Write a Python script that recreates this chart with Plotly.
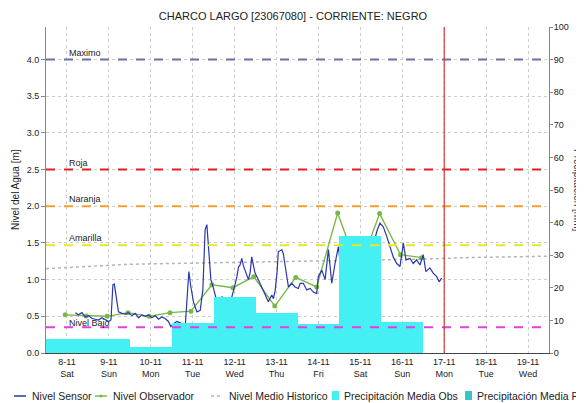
import pandas as pd
import plotly.graph_objects as go

inicio = pd.Timestamp('2014-11-08 00:00')

# nivel del sensor: horas desde 08-11 00:00 y nivel [m]
sensor_horas = [16.8, 18.6, 20.6, 22.5, 24.4, 26.3, 28.2, 30.1, 32.0, 33.9, 35.8, 37.2, 38.3, 39.1, 40.2, 41.5,
                43.5, 45.4, 47.2, 49.2, 51.1, 53.0, 54.9, 56.8, 58.7, 60.6, 62.5, 64.4, 66.4, 68.2, 70.1, 71.5,
                73.0, 74.9, 76.8, 78.7, 79.7, 81.0, 81.8, 82.9, 84.4, 86.4, 88.3, 89.8, 91.1, 92.1, 93.0, 94.4,
                95.9, 97.4, 98.6, 100.7, 102.0, 103.5, 104.8, 106.4, 107.7, 109.3, 110.2, 111.1, 112.1, 113.0,
                114.0, 115.9, 116.9, 117.8, 118.7, 119.7, 121.6, 123.2, 124.5, 125.4, 127.3, 129.3, 130.2, 131.2,
                132.3, 133.0, 135.0, 135.9, 136.9, 138.8, 140.7, 142.6, 144.5, 145.5, 147.3, 149.3, 151.2, 153.1,
                155.0, 155.9, 157.9, 159.8, 161.7, 163.6, 165.5, 167.4, 169.3, 171.2, 173.1, 175.0, 176.9, 178.8,
                180.8, 182.6, 184.5, 186.5, 188.4, 189.7, 191.2, 193.1, 195.1, 196.9, 198.8, 200.8, 202.7, 204.6,
                206.1, 208.4, 210.3, 212.2, 214.1, 216.0, 217.5, 219.8, 221.7, 223.7, 225.1, 226.5]
sensor_nivel = [0.55, 0.52, 0.55, 0.49, 0.51, 0.47, 0.46, 0.45, 0.48, 0.46, 0.43, 0.45, 0.93, 0.94, 0.77, 0.56,
                0.54, 0.53, 0.55, 0.51, 0.54, 0.48, 0.52, 0.50, 0.52, 0.48, 0.51, 0.46, 0.49, 0.47, 0.43, 0.36,
                0.40, 0.43, 0.41, 0.39, 0.36, 0.77, 1.11, 0.91, 0.70, 0.56, 0.58, 0.86, 1.68, 1.75, 1.45, 1.00,
                0.88, 0.72, 0.63, 0.77, 0.66, 0.56, 0.62, 0.75, 0.88, 1.04, 1.17, 1.20, 1.29, 1.19,
                1.13, 1.00, 1.10, 1.31, 1.20, 1.09, 1.00, 0.92, 0.86, 0.80, 0.70, 0.79, 0.74, 0.85,
                1.10, 1.38, 1.41, 1.35, 1.18, 0.90, 0.95, 0.90, 0.88, 0.95, 0.95, 0.86, 0.88, 0.83,
                0.81, 1.04, 1.13, 1.00, 1.41, 0.95, 1.22, 1.45, 1.04, 1.18, 1.00, 1.09, 0.95, 1.18,
                1.31, 1.09, 1.22, 1.41, 1.59, 1.68, 1.77, 1.72, 1.59, 1.45, 1.31, 1.22, 1.18, 1.50,
                1.27, 1.29, 1.22, 1.27, 1.20, 1.34, 1.11, 1.16, 1.09, 1.04, 0.97, 1.02]

obs_horas = [11, 23, 35, 47, 59, 71, 83, 95, 107, 119, 131, 143, 155, 167, 179, 191, 203, 215]
obs_nivel = [0.52, 0.505, 0.50, 0.55, 0.50, 0.55, 0.57, 0.93, 0.89, 1.04, 0.64, 1.03, 0.90, 1.91, 1.12, 1.90, 1.34, 1.30]

hist_horas = [0, 24, 48, 72, 96, 120, 144, 168, 192, 216, 240, 264, 288]
hist_nivel = [1.15, 1.18, 1.21, 1.22, 1.23, 1.24, 1.25, 1.26, 1.27, 1.28, 1.30, 1.31, 1.32]

# precipitacion diaria [mm]
precip_dias = ['2014-11-08', '2014-11-09', '2014-11-10', '2014-11-11', '2014-11-12',
               '2014-11-13', '2014-11-14', '2014-11-15', '2014-11-16']
precip_obs = [4.3, 4.3, 1.9, 9.3, 17.1, 12.4, 9.0, 36.0, 9.6]

umbrales = ['Maximo', 'Roja', 'Naranja', 'Amarilla', 'Nivel Bajo']
umbral_valor = [4.0, 2.5, 2.0, 1.47, 0.35]
umbral_color = ['#6b72a0', '#e02020', '#f0a030', '#e6e62a', '#e040e0']

dias = pd.date_range('2014-11-08 12:00', periods=12, freq='D')
dia_texto = [f"{d.day}-{d.month}<br>{d.strftime('%a')}" for d in dias]
ahora = pd.Timestamp('2014-11-17 12:00')

AZUL, VERDE, GRIS, CIAN, TEAL = '#2a36ac', '#78b848', '#b4b4b4', '#44f0f4', '#3cc4c4'

# leyenda dibujada a mano (una sola fila, cortada a la derecha como el original)
leyenda_nombres = ['Nivel Sensor', 'Nivel Observador', 'Nivel Medio Historico',
                   'Precipitación Media Obs', 'Precipitación Media Pro']
leyenda_tipo = ['linea', 'marcador', 'puntos', 'caja', 'caja']
leyenda_color = [AZUL, VERDE, GRIS, CIAN, TEAL]
leyenda_px = [14, 95, 211, 332, 465]  # borde izquierdo del simbolo, en pixeles de la ventana


def a_fecha(horas):
    return [inicio + pd.Timedelta(hours=h) for h in horas]


# el body de la pagina deja 8px de margen: la figura empieza en (8, 8)
OFF = 8
W, H = 584 - OFF, 403 - OFF
L, R, T, B = 46 - OFF, 35, 27 - OFF, 50
pw, ph = W - L - R, H - T - B


def px_x(p):
    return (p - OFF - L) / pw


def px_y(p):
    return (H - B - (p - OFF)) / ph


fig = go.Figure()
fig.add_trace(go.Bar(x=pd.to_datetime(precip_dias) + pd.Timedelta(hours=12), y=precip_obs, yaxis='y2',
                     width=86400000, marker=dict(color=CIAN, line_width=0),
                     name='Precipitación Media Obs'))
fig.add_trace(go.Scatter(x=a_fecha(hist_horas), y=hist_nivel, mode='lines',
                         line=dict(color=GRIS, width=1.5, dash='dot'), name='Nivel Medio Historico'))
fig.add_trace(go.Scatter(x=a_fecha(obs_horas), y=obs_nivel, mode='lines+markers',
                         line=dict(color=VERDE, width=1.4), marker=dict(size=5, color=VERDE),
                         name='Nivel Observador'))
fig.add_trace(go.Scatter(x=a_fecha(sensor_horas), y=sensor_nivel, mode='lines',
                         line=dict(color=AZUL, width=1.2), name='Nivel Sensor'))

for nombre, valor, color in zip(umbrales, umbral_valor, umbral_color):
    fig.add_shape(type='line', xref='paper', x0=0, x1=1, yref='y', y0=valor, y1=valor,
                  line=dict(color=color, width=2, dash='dash'))
    fig.add_annotation(x=dias[0], y=valor, text=nombre, showarrow=False, xanchor='left',
                       yanchor='bottom', yshift=-3 if nombre == 'Nivel Bajo' else 0,
                       font=dict(size=9, color='#222'))

fig.add_shape(type='line', x0=ahora, x1=ahora, yref='paper', y0=0, y1=1,
              line=dict(color='#d03838', width=1.2))

# titulos de los ejes
fig.add_annotation(xref='paper', yref='paper', x=px_x(15), y=px_y(190), text='Nivel del Agua [m]',
                   textangle=-90, showarrow=False, xanchor='center', yanchor='middle',
                   font=dict(size=10, color='#222'))
fig.add_annotation(xref='paper', yref='paper', x=px_x(578), y=px_y(190), text='Precipitacion [mm]',
                   textangle=90, showarrow=False, xanchor='center', yanchor='middle',
                   font=dict(size=10, color='#333'))

# leyenda
ly = px_y(396)
for nombre, tipo, color, p in zip(leyenda_nombres, leyenda_tipo, leyenda_color, leyenda_px):
    if tipo == 'caja':
        fig.add_shape(type='rect', xref='paper', yref='paper', x0=px_x(p), x1=px_x(p + 7),
                      y0=px_y(400), y1=px_y(391), fillcolor=color, line_width=0)
        tx = p + 10
    else:
        dash = 'dot' if tipo == 'puntos' else 'solid'
        fig.add_shape(type='line', xref='paper', yref='paper', x0=px_x(p), x1=px_x(p + 12),
                      y0=ly, y1=ly, line=dict(color=color, width=1.5, dash=dash))
        if tipo == 'marcador':
            fig.add_shape(type='circle', xref='paper', yref='paper', x0=px_x(p + 4.5), x1=px_x(p + 7.5),
                          y0=px_y(397.5), y1=px_y(394.5), fillcolor=color, line_width=0)
        tx = p + 16
    fig.add_annotation(xref='paper', yref='paper', x=px_x(tx), y=ly, text=nombre, showarrow=False,
                       xanchor='left', yanchor='middle', font=dict(size=10.5, color='#222'))

fig.update_layout(
    width=W, height=H,
    margin=dict(l=L, r=R, t=T, b=B),
    title=dict(text='CHARCO LARGO [23067080] - CORRIENTE: NEGRO', x=px_x(293) * pw / W + L / W,
               xanchor='center', y=1 - (16 - OFF) / H, yanchor='middle',
               font=dict(size=11, color='#222')),
    font=dict(family='Liberation Sans, Arial', size=9, color='#222'),
    plot_bgcolor='white', paper_bgcolor='white',
    bargap=0, barmode='overlay',
    showlegend=False,
    xaxis=dict(range=[inicio, inicio + pd.Timedelta(days=12)], tickvals=dias, ticktext=dia_texto,
               showgrid=True, gridcolor='#cccccc', griddash='dot', gridwidth=1, automargin=False,
               showline=True, linecolor='#444', ticks='', tickfont=dict(size=9)),
    yaxis=dict(range=[0, 4.444], tickvals=[0, 0.5, 1, 1.5, 2, 2.5, 3, 3.5, 4], tickformat='.1f',
               showgrid=True, gridcolor='#cccccc', griddash='dot', gridwidth=1, zeroline=False,
               showline=True, linecolor='#888', ticks='outside', ticklen=4, tickcolor='#888',
               automargin=False),
    yaxis2=dict(range=[0, 100], overlaying='y', side='right', dtick=10, showgrid=False,
                zeroline=False, showline=True, linecolor='#888', ticks='outside', ticklen=3,
                tickcolor='#888', ticklabelstandoff=-1, automargin=False),
)

fig.write_html('out.html')
